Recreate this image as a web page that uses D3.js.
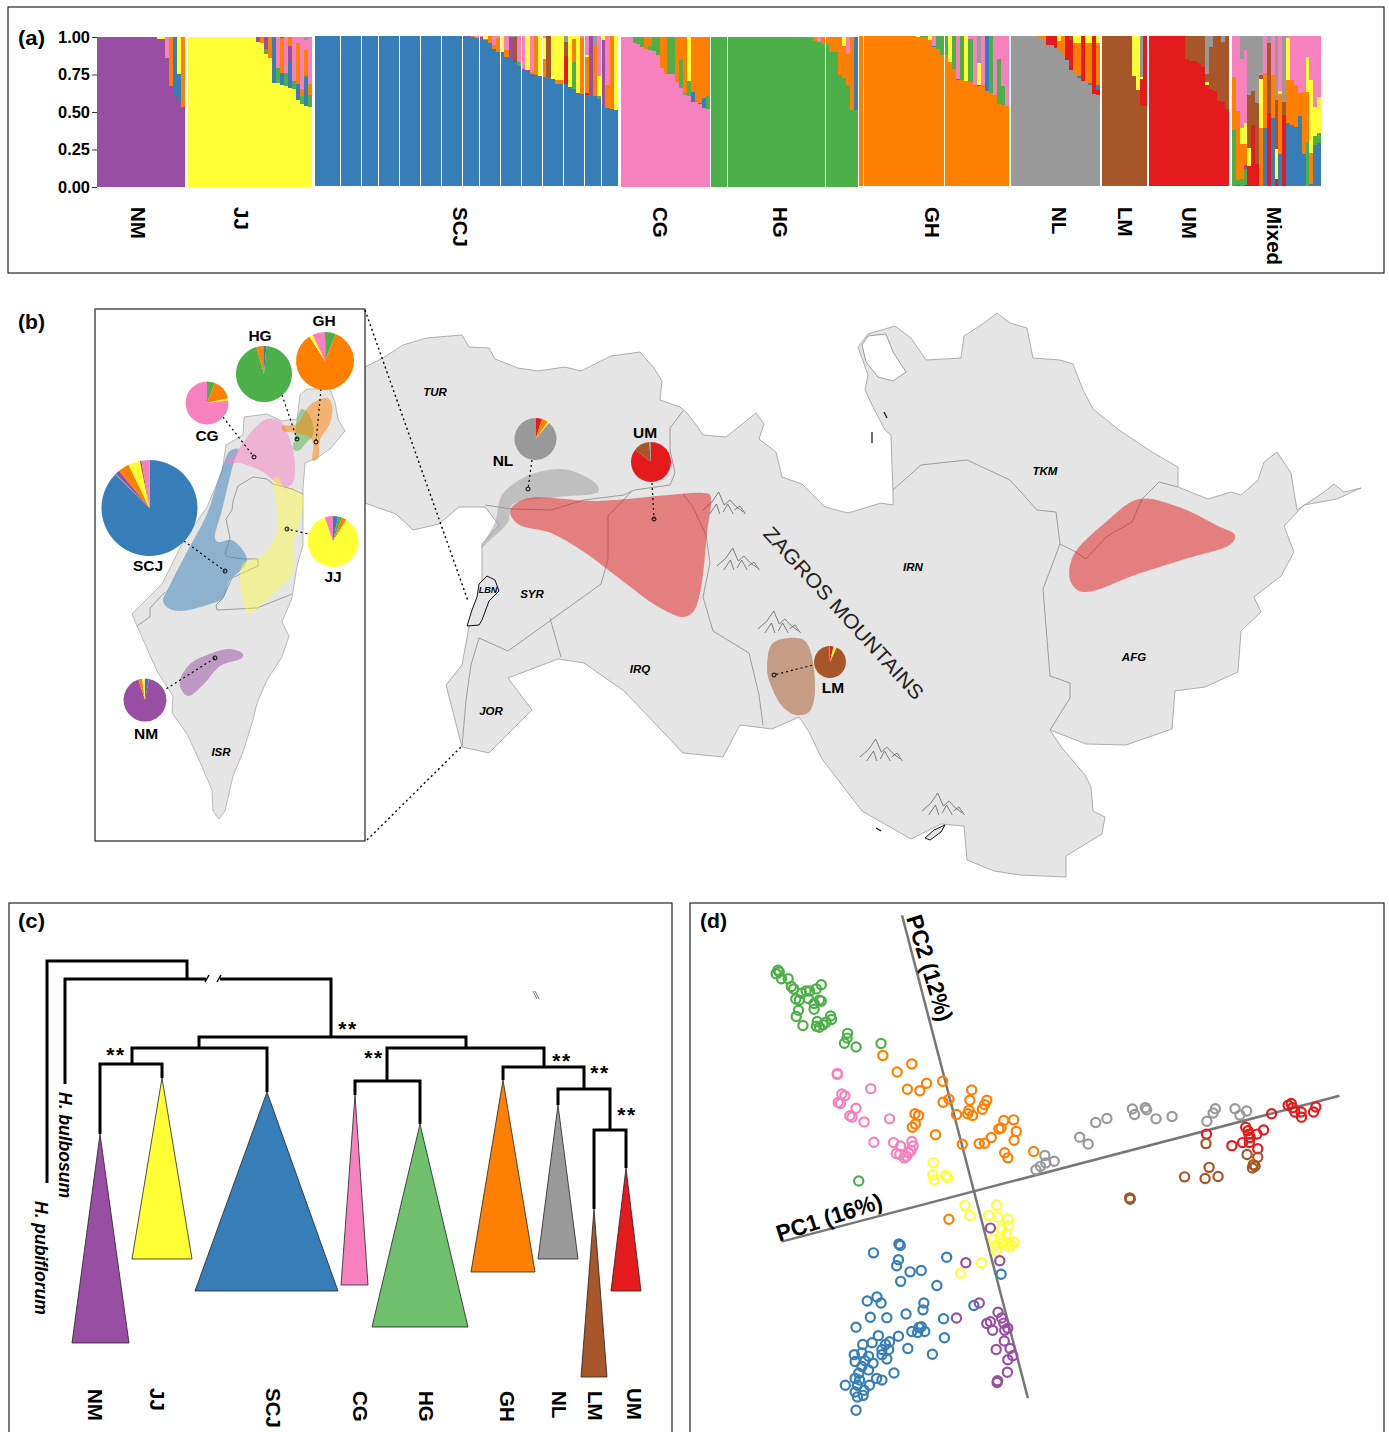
<!DOCTYPE html>
<html>
<head>
<meta charset="utf-8">
<script src="https://d3js.org/d3.v7.min.js"></script>
<style>
body { margin: 0; background: #fff; }
text { font-family: "Liberation Sans", Arial, sans-serif; }
</style>
</head>
<body>
<div id="chart"></div>
<script>
// ---------- panel (a): ancestry per individual, cumulative from the bottom ----------
var groupNames = ["NM", "JJ", "SCJ", "CG", "HG", "GH", "NL", "LM", "UM", "Mixed"];
var groupMain  = ["U", "Y", "B", "K", "G", "O", "A", "N", "R", null];
var groupFlat  = [15, 17, 35, 3, 24, 14, 7, 8, 9, 0];

var nmBars = [["U",.987,"Y",1],["U",.987,"Y",1],["U",.86,"K",1],["U",.673,"O",1],["U",.607,"B",1],["U",.573,"B",.753,"Y",1],["U",.533,"O",1]];
var jjBars = [["Y",.967,"U",1],["Y",.96,"O",1],["Y",.887,"G",.92,"U",1],["Y",.86,"O",1],["Y",.693,"B",1],["Y",.693,"G",.793,"K",1],
  ["Y",.68,"B",.76,"O",.993,"N",1],["Y",.673,"G",.76,"K",1],["Y",.66,"B",.833,"U",.94,"O",1],["Y",.653,"G",.707,"K",1],
  ["Y",.58,"B",.687,"O",.96,"K",1],["Y",.553,"G",.607,"O",.653,"K",1],["Y",.54,"B",.733,"G",.747,"O",.913,"K",.98,"A",1],["Y",.533,"G",.613,"O",.687,"K",.993,"A",1]];
var scjBars = [["B",.998,"K",1],["B",.996,"U",1],["B",.991,"O",1],["B",.987,"K",1],
  ["B",.98,"U",.993,"K",1],["B",.973,"O",.98,"Y",1],["B",.953,"O",1],["B",.913,"O",.94,"K",1],["B",.893,"O",.987,"K",1],
  ["B",.893,"Y",1],["B",.86,"O",.907,"K",1],["B",.84,"U",.993,"A",1],["B",.827,"R",.833,"N",.993,"A",1],["B",.8,"G",.827,"K",1],
  ["B",.78,"K",1],["B",.767,"U",.773,"Y",1],["B",.747,"O",.76,"K",1],["B",.738,"O",1],["B",.733,"Y",1],
  ["B",.727,"O",.847,"Y",.987,"K",1],["B",.727,"N",1],["B",.713,"Y",1],["B",.68,"O",.707,"Y",1],["B",.68,"O",.707,"Y",1],
  ["B",.68,"R",.867,"N",.96,"A",1],["B",.66,"Y",1],["B",.647,"G",.827,"O",.98,"Y",1],["B",.62,"Y",1],["B",.613,"O",.987,"K",1],
  ["B",.607,"R",.62,"O",.86,"Y",.873,"K",1],["B",.607,"U",1],["B",.6,"O",.94,"A",1],["B",.58,"G",.6,"Y",.733,"K",1],
  ["B",.533,"U",.973,"Y",1],["B",.52,"O",.673,"K",1],["B",.513,"O",1],["B",.507,"Y",1]];
var cgBars = [["K",.96,"G",1],["K",.953,"G",1],["K",.933,"G",1],["K",.92,"O",1],["K",.913,"G",.94,"O",1],["K",.907,"G",1],["K",.88,"G",1],
  ["K",.793,"O",1],["K",.753,"O",1],["K",.753,"G",1],["K",.753,"G",1],["K",.7,"O",1],["K",.66,"G",.853,"O",1],["K",.613,"G",.62,"O",1],
  ["K",.607,"G",.707,"Y",1],["K",.567,"B",.633,"O",1],["K",.567,"G",.573,"O",1],["K",.553,"B",.56,"O",1],["K",.527,"B",.593,"O",1],["K",.52,"G",.607,"O",1]];
var hgBars = [["G",.993,"O",1],["G",.973,"O",1],["G",.967,"K",1],["G",.953,"O",1],
  ["G",.953,"O",1],["G",.9,"O",1],["G",.9,"O",1],["G",.747,"O",1],["G",.727,"O",.94,"Y",1],["G",.68,"O",.887,"K",1],["G",.513,"O",1],["G",.513,"B",1]];
var ghBars = [["O",.993,"Y",1],["O",.993,"G",1],["O",.993,"G",1],["O",.973,"Y",1],["O",.927,"B",.933,"K",1],["O",.913,"G",1],["O",.873,"G",1],
  ["O",.873,"G",1],["O",.827,"Y",1],["O",.78,"G",1],["O",.707,"B",.713,"K",1],["O",.707,"G",1],["O",.7,"Y",1],["O",.693,"G",.98,"K",1],
  ["O",.673,"K",1],["O",.667,"R",.673,"Y",.82,"A",1],["O",.673,"K",1],["O",.633,"B",1],["O",.62,"G",1],["O",.607,"K",1],
  ["O",.547,"G",.847,"K",1],["O",.54,"G",.667,"K",1],["O",.533,"K",1]];
var nlBars = [["A",.987,"O",1],["A",.973,"O",1],["A",.94,"R",1],["A",.94,"R",1],["A",.92,"R",1],["A",.907,"O",.967,"Y",1],["A",.873,"O",1],
  ["A",.84,"R",1],["A",.773,"R",.973,"N",1],["A",.747,"O",.953,"Y",1],["A",.72,"B",.733,"O",.953,"Y",1],["A",.7,"R",1],["A",.7,"O",.953,"Y",1],
  ["A",.673,"B",.687,"O",.953,"Y",1],["A",.613,"R",1],["A",.607,"R",.64,"B",.673,"O",.953,"Y",1]];
var lmBars = [["N",.733,"Y",1],["N",.64,"Y",1],["N",.54,"R",.713,"Y",.727,"A",1],["N",.533,"R",1]];
var umBars = [["R",.847,"N",1],["R",.833,"N",1],["R",.833,"N",1],["R",.82,"N",1],["R",.793,"N",1],["R",.673,"Y",.693,"N",.747,"A",1],
  ["R",.647,"N",.927,"A",1],["R",.633,"N",1],["R",.567,"N",1],["R",.56,"N",.96,"A",1],["R",.513,"N",1]];
var mixedBars = [["G",.373,"O",.727,"K",1],["B",.007,"G",.04,"O",.5,"K",1],["G",.047,"O",.28,"Y",.387,"K",.847,"A",1],
  ["R",.005,"G",.113,"U",.14,"O",.28,"Y",.42,"K",.907,"A",1],["R",.133,"Y",.253,"N",.607,"A",1],["R",.407,"N",.633,"A",1],["R",.147,"N",.553,"A",1],
  ["O",.387,"Y",.713,"N",.74,"K",.753,"A",1],["B",.387,"O",.753,"K",1],["R",.487,"N",.953,"A",1],["B",.453,"O",.74,"K",1],
  ["R",.047,"Y",.247,"N",.573,"A",1],["B",.213,"O",.613,"Y",.633,"K",1],["R",.473,"N",.56,"A",1],["B",.42,"O",.707,"Y",.987,"K",1],
  ["B",.407,"O",.707,"K",1],["B",.393,"O",.673,"K",1],["B",.467,"O",.62,"K",1],["B",.213,"O",.627,"K",1],["G",.293,"O",.627,"Y",.86,"K",1],
  ["B",.013,"O",.22,"Y",.707,"K",1],["B",.273,"G",.333,"Y",.527,"K",1],["B",.287,"G",.353,"Y",.593,"K",1]];
var groupBars = [nmBars, jjBars, scjBars, cgBars, hgBars, ghBars, nlBars, lmBars, umBars, mixedBars];

// thin white breaks inside a group, counted in individuals
var scjBreaks = [6,11,15,20,25,30,35,39,44,49,54,59,64,68];
var hgBreaks  = [4,28];
var ghBreaks  = [1,21];
var groupBreaks = [[], [], scjBreaks, [], hgBreaks, ghBreaks, [], [], [], []];

var yTicks = [0, 0.25, 0.5, 0.75, 1];

// ---------- panel (b): pies ----------
var pieNames = ["GH","HG","CG","SCJ","JJ","NM","NL","UM","LM"];
var pieKeys = [["B","G","O","Y","K"],["B","G","O"],["G","O","Y","K"],["B","G","U","O","Y","N","K"],["B","G","O","Y","K"],["B","U","O","Y","K"],["R","O","Y","A"],["R","N","A"],["R","Y","N","A"]];
var pieVals = [[.005,.055,.85,.02,.07],[.014,.942,.044],[.06,.155,.016,.769],[.873,.003,.015,.037,.04,.005,.027],[.032,.025,.03,.861,.052],[.03,.92,.028,.02,.002],[.05,.05,.012,.888],[.855,.13,.015],[.035,.035,.92,.01]];

// ---------- map outlines ----------
var mainland = [[365,367],[383,358],[403,345],[426,338],[462,335],[469,347],[489,348],[495,359],[518,368],[538,371],[565,367],[581,371],[611,356],[640,352],[654,368],[662,381],[660,400],[680,407],[687,413],[697,426],[703,435],[726,437],[756,413],[764,424],[759,439],[776,452],[782,477],[802,484],[825,507],[848,513],[881,503],[893,505],[893,495],[891,435],[885,430],[872,405],[865,390],[868,375],[858,347],[868,334],[895,326],[911,338],[926,360],[961,358],[964,336],[984,323],[997,313],[1010,323],[1027,328],[1033,358],[1060,360],[1073,364],[1083,390],[1093,409],[1119,430],[1152,452],[1178,467],[1178,487],[1208,499],[1231,492],[1241,495],[1258,480],[1264,462],[1277,452],[1291,473],[1297,510],[1324,492],[1334,484],[1344,492],[1361,488],[1337,499],[1304,505],[1284,526],[1294,552],[1281,576],[1254,597],[1261,612],[1241,631],[1238,672],[1205,687],[1175,691],[1172,729],[1126,745],[1086,744],[1050,730],[1062,748],[1085,775],[1091,787],[1093,811],[1105,817],[1102,834],[1066,856],[1066,877],[1020,875],[994,871],[967,860],[964,826],[941,824],[911,839],[862,811],[822,759],[809,732],[799,717],[772,729],[740,725],[723,757],[683,753],[624,691],[584,663],[558,659],[508,678],[532,710],[489,753],[462,747],[446,685],[462,665],[469,627],[482,593],[482,544],[499,525],[485,507],[459,507],[439,524],[413,530],[396,514],[365,503]];
var borders = [
  [[485,505],[512,509],[551,510],[584,500],[624,495],[634,490],[670,485],[675,473],[670,450],[670,428],[683,411]],
  [[631,492],[608,516],[608,559],[601,584],[508,651],[479,638]],
  [[683,494],[693,507],[706,535],[710,563],[703,597],[713,631],[749,653],[759,695],[763,725]],
  [[550,618],[561,657]],
  [[479,638],[471,665],[466,700],[462,747]],
  [[893,490],[921,465],[967,460],[1010,480],[1037,510],[1056,512],[1060,544],[1076,552],[1086,559],[1106,537],[1132,522],[1142,499],[1159,482],[1178,487]],
  [[1060,544],[1043,589],[1050,676],[1070,683],[1070,698],[1050,730]]
];
var lebanon = [[487,576],[495,580],[499,591],[489,601],[482,620],[479,625],[467,626],[472,610],[477,597],[479,584]];
var karaBogaz = [[862,345],[868,336],[886,334],[893,352],[906,372],[893,381],[878,377],[866,362]];
var qeshm = [[925,838],[934,830],[945,825],[941,832],[930,840]];
var coastBits = [[[872,432],[872,443]],[[884,412],[887,418]],[[876,828],[881,831]]];
var israel = [[132,614],[162,584],[183,542],[207,507],[222,472],[226,445],[243,435],[244,417],[267,414],[282,421],[297,419],[300,395],[307,389],[330,389],[335,402],[338,419],[345,431],[330,449],[317,458],[305,463],[303,489],[303,545],[297,566],[292,598],[282,622],[289,636],[282,657],[267,680],[257,703],[253,720],[243,752],[233,776],[225,811],[219,819],[213,811],[212,790],[200,762],[187,734],[172,713],[173,696],[157,671],[137,626]];
var westBank = [[303,494],[292,489],[273,484],[267,479],[253,477],[238,486],[233,501],[232,510],[226,519],[230,538],[225,554],[228,557],[245,559],[258,559],[258,566],[232,578],[223,598],[216,605],[217,610],[257,608],[292,594]];
var gaza = [[137,626],[150,617],[150,608],[165,592]];

// coloured ranges
var rangeNames = ["NL","UM","UM","LM","SCJ","CG","JJ","HG","GH","NM"];
var rangeKeys  = ["A","R","R","N","B","K","Y","G","O","U"];
var rangeShapes = [
  [[481,548],[495,522],[502,495],[525,477],[558,469],[578,473],[598,486],[598,492],[558,497],[512,505],[508,522],[489,541]],
  [[510,511],[525,499],[598,501],[703,493],[710,495],[707,533],[700,593],[693,612],[683,617],[657,606],[624,582],[584,552],[551,533],[518,524]],
  [[1139,499],[1179,507],[1218,526],[1235,535],[1231,544],[1185,559],[1132,576],[1093,591],[1079,591],[1070,580],[1073,556],[1106,522]],
  [[767,668],[772,644],[789,638],[806,642],[815,691],[809,712],[796,715],[782,706],[769,680]],
  [[163,601],[170,585],[187,552],[207,514],[222,468],[230,451],[238,449],[233,465],[222,510],[215,538],[218,542],[232,540],[247,559],[240,571],[230,580],[223,598],[207,605],[180,611],[168,608]],
  [[225,463],[237,451],[253,430],[267,419],[280,421],[290,440],[295,465],[292,484],[283,487],[263,472],[240,463]],
  [[273,479],[278,477],[283,486],[302,494],[303,507],[293,545],[292,573],[273,594],[248,613],[243,601],[240,577],[243,563],[260,557],[275,538],[278,517],[275,496]],
  [[293,449],[295,438],[297,419],[302,409],[310,416],[313,435],[307,442],[298,451]],
  [[282,426],[297,424],[310,405],[327,398],[332,405],[330,423],[320,440],[318,458],[313,461],[312,440],[297,433],[283,431]],
  [[180,680],[190,664],[207,655],[230,649],[243,654],[242,658],[220,666],[203,685],[188,696],[181,689]]
];
var countryNames = ["TUR","SYR","LBN","IRQ","JOR","IRN","TKM","AFG","ISR"];

// ---------- panel (c) ----------
var cladeNames = ["NM","JJ","SCJ","CG","HG","GH","NL","LM","UM"];
var cladeKeys  = ["U","Y","B","K","G2","O","A","N","R"];
var cladeTip   = [100,162,267,355,420,503,558,594,626];
var cladeApex  = [1134,1078,1092,1095,1124,1080,1105,1209,1168];
var cladeLeft  = [72,132,195,341,372,471,538,581,611];
var cladeRight = [129,192,338,368,468,535,578,607,641];
var cladeBase  = [1343,1259,1291,1285,1327,1272,1259,1377,1291];
var treeSteps = [
  [[47,1183],[47,961],[187,961],[187,979]],
  [[65,1084],[65,979],[206,979]],
  [[220,979],[331,979],[331,1037]],
  [[199,1048],[199,1037],[466,1037],[466,1048]],
  [[132,1064],[132,1048],[267,1048],[267,1092]],
  [[100,1134],[100,1064],[162,1064],[162,1078]],
  [[387,1081],[387,1048],[544,1048],[544,1067]],
  [[355,1095],[355,1081],[420,1081],[420,1124]],
  [[503,1080],[503,1067],[584,1067],[584,1089]],
  [[558,1105],[558,1089],[610,1089],[610,1130]],
  [[594,1209],[594,1130],[626,1130],[626,1168]]
];

// ---------- panel (d): PCA scores read on a 1566 x 1568 grid ----------
var pcaGreen = [[197,207],[200,212],[193,217],[205,232],[220,232],[227,255],[232,262],[260,268],[250,275],[268,268],[283,262],[294,250],[237,292],[245,295],[265,290],[290,295],[294,298],[278,305],[278,322],[243,325],[238,343],[253,370],[285,358],[283,372],[290,375],[298,368],[315,342],[317,352],[305,360],[353,393],[352,407],[346,422],[372,433],[428,423],[378,828]];
var pcaOrange = [[432,458],[497,483],[464,507],[530,540],[566,534],[487,558],[515,562],[631,560],[580,587],[567,596],[627,590],[665,590],[660,603],[655,617],[625,620],[622,630],[633,635],[597,632],[504,630],[512,635],[505,660],[498,670],[550,692],[610,720],[648,718],[660,717],[675,700],[692,675],[697,672],[703,650],[725,648],[731,682],[726,708],[705,745],[712,760],[770,741],[580,941]];
var pcaPink = [[330,511],[330,514],[405,556],[340,572],[347,577],[332,597],[337,600],[372,614],[358,636],[363,640],[390,654],[447,645],[412,714],[456,715],[472,725],[497,712],[500,725],[495,738],[462,747],[470,750],[485,755],[490,745],[480,760]];
var pcaYellow = [[545,774],[544,810],[573,812],[577,818],[547,825],[616,900],[627,930],[687,899],[669,930],[690,935],[712,940],[713,960],[698,970],[708,985],[695,995],[680,1000],[712,1010],[726,1008],[720,1018],[685,1018],[686,1035],[653,1069],[606,1100],[700,1010],[715,1022]];
var pcaGrey = [[991,616],[1020,612],[1023,618],[996,632],[1044,645],[1080,638],[934,644],[909,656],[873,699],[892,719],[795,753],[816,770],[797,775],[785,785],[775,795],[1177,615],[1172,628],[1158,652],[1221,615],[1247,622],[1232,634]];
var pcaRed = [[1157,690],[1303,630],[1340,605],[1347,600],[1350,612],[1355,625],[1369,625],[1370,640],[1397,625],[1402,610],[1245,670],[1250,680],[1252,690],[1255,700],[1270,690],[1285,678],[1238,715],[1253,715],[1214,724],[1272,733]];
var pcaBrown = [[1156,718],[1248,750],[1272,758],[1262,780],[1260,790],[1266,785],[1163,788],[1183,815],[1154,821],[1108,816],[986,880],[986,882],[985,878]];
var pcaBlue = [[411,1040],[468,1014],[471,1018],[467,1060],[463,1078],[493,1096],[518,1092],[575,1053],[697,1103],[472,1124],[553,1136],[419,1170],[397,1182],[428,1188],[524,1188],[522,1208],[636,1195],[484,1220],[404,1230],[441,1231],[568,1234],[372,1259],[422,1284],[467,1286],[497,1272],[513,1260],[518,1258],[526,1272],[510,1275],[570,1290],[408,1305],[387,1310],[447,1302],[438,1310],[488,1322],[430,1325],[445,1325],[543,1339],[368,1340],[385,1335],[400,1345],[430,1340],[441,1353],[370,1360],[392,1358],[410,1365],[385,1375],[400,1385],[378,1395],[457,1394],[370,1410],[380,1415],[418,1410],[430,1415],[348,1430],[375,1430],[402,1430],[390,1445],[370,1450],[375,1465],[388,1460],[372,1504]];
var pcaPurple = [[673,967],[694,1063],[618,1069],[648,1188],[597,1232],[690,1215],[665,1248],[673,1243],[698,1232],[703,1247],[712,1262],[705,1268],[678,1268],[704,1300],[686,1325],[717,1322],[723,1343],[712,1355],[711,1392],[689,1417],[688,1422]];
var pcaGroups = [pcaGreen, pcaOrange, pcaPink, pcaYellow, pcaGrey, pcaRed, pcaBrown, pcaBlue, pcaPurple];
var pcaKeys   = ["G","O","K","Y","A","R","N","B","U"];

// ---------- colours ----------
var colors = {R:"#E41A1C", B:"#377EB8", G:"#4DAF4A", U:"#984EA3", O:"#FF7F00", Y:"#FFFF33", N:"#A65628", K:"#F781BF", A:"#999999", G2:"#6FBF6D"};

var W = 1389, H = 1432;
var svg = d3.select("#chart").append("svg").attr("width", W).attr("height", H).style("display", "block");

function frame(x, y, w, h) {
    svg.append("rect").attr("x", x).attr("y", y).attr("width", w).attr("height", h)
        .attr("fill", "#fff").attr("stroke", "#222").attr("stroke-width", 1.2);
}
function panelTag(t, x, y) {
    svg.append("text").attr("x", x).attr("y", y).attr("font-size", 21).attr("font-weight", "bold")
        .attr("textLength", 27).attr("lengthAdjust", "spacingAndGlyphs").text(t);
}
// text reading top to bottom, x is the glyph centre line
function downText(t, x, y, size, extra) {
    var el = svg.append("text").attr("transform", "translate(" + x + "," + y + ") rotate(90)")
        .attr("dy", "0.35em").attr("font-size", size).attr("font-weight", "bold").text(t);
    if (extra) el.attr("font-style", extra);
    return el;
}

// ---------- panel (a) ----------
frame(8, 7, 1376, 266);
panelTag("(a)", 18, 45);

var groupX0 = [97,188,315,621,711,859,1011,1102,1149,1232];
var groupX1 = [185,312,618,710,858,1009,1100,1147,1229,1321];
var groupLift = [0,0,-1,0,0,-1,-1,-1,-1,-1];
var groupLabelX = [138,241,460,660,780,932,1059,1125,1189,1274];

var yQ = d3.scaleLinear().domain([0, 1]).range([187, 37]);
var axisA = svg.append("g").attr("transform", "translate(97,0)")
    .call(d3.axisLeft(yQ).tickValues(yTicks).tickFormat(d3.format(".2f")).tickSize(5).tickPadding(2));
axisA.select(".domain").remove();
axisA.selectAll("text").attr("font-size", 17).attr("font-weight", "bold").attr("fill", "#000")
    .attr("textLength", 32).attr("lengthAdjust", "spacingAndGlyphs");
axisA.selectAll("line").attr("stroke", "#333").attr("stroke-width", 1);

groupNames.forEach(function(name, g) {
    var bars = d3.range(groupFlat[g]).map(function() { return [groupMain[g], 1]; }).concat(groupBars[g]);
    var xB = d3.scaleBand().domain(d3.range(bars.length)).range([groupX0[g], groupX1[g]]);
    var gEl = svg.append("g").attr("transform", "translate(0," + groupLift[g] + ")").attr("shape-rendering", "crispEdges");
    bars.forEach(function(bar, i) {
        var low = 0;
        for (var k = 0; k < bar.length; k += 2) {
            gEl.append("rect")
                .attr("x", xB(i)).attr("width", xB.bandwidth())
                .attr("y", yQ(bar[k + 1])).attr("height", yQ(low) - yQ(bar[k + 1]))
                .attr("fill", colors[bar[k]]);
            low = bar[k + 1];
        }
    });
    groupBreaks[g].forEach(function(b) {
        gEl.append("rect").attr("x", xB(b) - 0.5).attr("width", 1).attr("y", yQ(1) - 1).attr("height", yQ(0) - yQ(1) + 2).attr("fill", "#fff");
    });
    downText(name, groupLabelX[g], 207, 20.5);
});

// ---------- panel (b) ----------
panelTag("(b)", 18, 329);

var mapX = d3.scaleIdentity(), mapY = d3.scaleIdentity();
var mapLine = d3.line().x(function(d) { return mapX(d[0]); }).y(function(d) { return mapY(d[1]); });
var blobLine = d3.line().x(function(d) { return mapX(d[0]); }).y(function(d) { return mapY(d[1]); }).curve(d3.curveCatmullRomClosed.alpha(0.5));

svg.append("path").attr("d", mapLine(mainland) + "Z").attr("fill", "#E5E5E5").attr("stroke", "#9a9a9a").attr("stroke-width", 0.8);
borders.forEach(function(b) {
    svg.append("path").attr("d", mapLine(b)).attr("fill", "none").attr("stroke", "#888").attr("stroke-width", 0.8);
});
svg.append("path").attr("d", mapLine(karaBogaz) + "Z").attr("fill", "#fff").attr("stroke", "#888").attr("stroke-width", 0.8);
svg.append("path").attr("d", mapLine(lebanon) + "Z").attr("fill", "#E5E5E5").attr("stroke", "#111").attr("stroke-width", 1);
svg.append("path").attr("d", mapLine(qeshm) + "Z").attr("fill", "#E5E5E5").attr("stroke", "#111").attr("stroke-width", 1);
coastBits.forEach(function(b) {
    svg.append("path").attr("d", mapLine(b)).attr("fill", "none").attr("stroke", "#111").attr("stroke-width", 1.2);
});

// little mountain symbols
var mountainLines = [
  [[0,18],[8,10],[14,0],[19,13],[24,8],[29,14],[36,20]],
  [[6,22],[12,12],[15,22]],
  [[18,20],[22,12],[27,22]],
  [[28,18],[33,14],[38,22]]
];
var mountainSpots = [[703,492],[717,548],[758,611],[860,739],[922,793]];
mountainSpots.forEach(function(p) {
    var g = svg.append("g").attr("transform", "translate(" + p[0] + "," + p[1] + ") scale(1.12,1)");
    mountainLines.forEach(function(l) {
        g.append("path").attr("d", mapLine(l)).attr("fill", "none").attr("stroke", "#555").attr("stroke-width", 0.7);
    });
});

// inset
frame(95, 309, 270, 532);
svg.append("path").attr("d", mapLine(israel) + "Z").attr("fill", "#E5E5E5").attr("stroke", "#aaa").attr("stroke-width", 0.8);
[westBank, gaza].forEach(function(b) {
    svg.append("path").attr("d", mapLine(b)).attr("fill", "none").attr("stroke", "#8a8a8a").attr("stroke-width", 0.8);
});

rangeShapes.forEach(function(s, i) {
    svg.append("path").attr("d", blobLine(s)).attr("fill", colors[rangeKeys[i]]).attr("fill-opacity", rangeKeys[i] == "Y" ? 0.42 : 0.5).attr("data-name", rangeNames[i]);
});

function dotted(a, b, w) {
    svg.append("line").attr("x1", a[0]).attr("y1", a[1]).attr("x2", b[0]).attr("y2", b[1])
        .attr("stroke", "#000").attr("stroke-width", w || 1.2).attr("stroke-dasharray", "2 3");
}
dotted([365,310],[468,601],1.4);
dotted([367,840],[461,747],1.4);

var pieCenterX = [325,264,207,149.5,333,145,535.5,651,830];
var pieCenterY = [361,374,403,508,541.5,700,439,462,662];
var pieRadius  = [29,28,21.5,48,25.5,21.5,21,20,16];
var pieTailX = [321,282,223,184,317,158,532,652,817];
var pieTailY = [389,395,417,541,536,694,460,483,664];
var pieSiteX = [316,297,254,225,287,215,528,654,774];
var pieSiteY = [442,439,457,571,529,658,489,519,675];
var pieLabelX = [324,260,207,148,333,146,503,645,833];
var pieLabelY = [320,335,435,565,576,733,460,432,687];

var pie = d3.pie().sort(null).value(function(d) { return d; });
pieNames.forEach(function(name, i) {
    dotted([pieTailX[i], pieTailY[i]], [pieSiteX[i], pieSiteY[i]]);
    svg.append("circle").attr("cx", pieSiteX[i]).attr("cy", pieSiteY[i]).attr("r", 2).attr("fill", "none").attr("stroke", "#000").attr("stroke-width", 1);
    var g = svg.append("g").attr("transform", "translate(" + pieCenterX[i] + "," + pieCenterY[i] + ")");
    var arc = d3.arc().innerRadius(0).outerRadius(pieRadius[i]);
    g.selectAll("path").data(pie(pieVals[i])).enter().append("path")
        .attr("d", arc).attr("fill", function(d, k) { return colors[pieKeys[i][k]]; });
    svg.append("text").attr("x", pieLabelX[i]).attr("y", pieLabelY[i]).attr("dy", "0.36em")
        .attr("text-anchor", "middle").attr("font-size", 15.5).attr("font-weight", "bold").text(name);
});

var countryX = [435,532,488,640,491,913,1045,1134,221];
var countryY = [392,594,590,669,711,567,471,657,752];
countryNames.forEach(function(c, i) {
    svg.append("text").attr("x", countryX[i]).attr("y", countryY[i]).attr("dy", "0.36em").attr("text-anchor", "middle")
        .attr("font-size", c == "LBN" ? 9 : 11.5).attr("font-weight", "bold").attr("font-style", "italic").text(c);
});
svg.append("text").attr("transform", "translate(844,613) rotate(47.5)").attr("dy", "0.36em").attr("text-anchor", "middle")
    .attr("font-size", 20).attr("fill", "#222").attr("textLength", 226).attr("lengthAdjust", "spacingAndGlyphs").text("ZAGROS MOUNTAINS");

// ---------- panel (c) ----------
frame(9, 903, 663, 560);
panelTag("(c)", 18, 928);

var treeLine = d3.line();
cladeNames.forEach(function(name, i) {
    var tri = [[cladeTip[i], cladeApex[i]], [cladeLeft[i], cladeBase[i]], [cladeRight[i], cladeBase[i]]];
    svg.append("path").attr("d", treeLine(tri) + "Z").attr("fill", colors[cladeKeys[i]]).attr("stroke", "#222").attr("stroke-width", 0.8);
});
treeSteps.forEach(function(s) {
    svg.append("path").attr("d", treeLine(s)).attr("fill", "none").attr("stroke", "#000").attr("stroke-width", 3);
});
svg.append("path").attr("d", "M205,982L209,975").attr("stroke", "#000").attr("stroke-width", 1.5);
svg.append("path").attr("d", "M217,982L221,975").attr("stroke", "#000").attr("stroke-width", 1.5);
svg.append("path").attr("d", "M533,991L537,999").attr("stroke", "#444").attr("stroke-width", 0.7);
svg.append("path").attr("d", "M535,991L539,999").attr("stroke", "#444").attr("stroke-width", 0.7);

var starX = [348,116,374,562,600,627];
var starY = [1036,1062,1065,1068,1080,1122];
starX.forEach(function(x, i) {
    svg.append("text").attr("x", x).attr("y", starY[i]).attr("text-anchor", "middle").attr("font-size", 21).attr("font-weight", "bold")
        .attr("letter-spacing", 1.5).text("**");
});

var cladeLabelX = [95,157,273,360,426,507,559,595,634];
var cladeLabelY = [1389,1388,1388,1391,1391,1391,1391,1391,1388];
cladeNames.forEach(function(name, i) {
    downText(name, cladeLabelX[i], cladeLabelY[i], 20.5);
});
downText("H. bulbosum", 65, 1092, 17.5, "italic");
downText("H. pubiflorum", 41, 1201, 17.5, "italic");

// ---------- panel (d) ----------
frame(690, 903, 694, 560);
panelTag("(d)", 700, 928);

var xPca = d3.scaleLinear().domain([0, 1566]).range([690, 1389]);
var yPca = d3.scaleLinear().domain([0, 1568]).range([900, 1432]);

var pcAxes = [[[475,45],[757,1468]],[[205,1007],[1455,577]]];
pcAxes.forEach(function(a) {
    svg.append("line").attr("x1", xPca(a[0][0])).attr("y1", yPca(a[0][1])).attr("x2", xPca(a[1][0])).attr("y2", yPca(a[1][1]))
        .attr("stroke", "#777").attr("stroke-width", 2.5);
});
pcaGroups.forEach(function(pts, i) {
    svg.selectAll(null).data(pts).enter().append("circle")
        .attr("cx", function(d) { return xPca(d[0]); })
        .attr("cy", function(d) { return yPca(d[1]); })
        .attr("r", 4.6).attr("fill", "none").attr("stroke", colors[pcaKeys[i]]).attr("stroke-width", 2.2);
});
svg.append("text").attr("transform", "translate(829,1217) rotate(-18)").attr("dy", "0.36em").attr("text-anchor", "middle")
    .attr("font-size", 23).attr("font-weight", "bold").attr("textLength", 110).attr("lengthAdjust", "spacingAndGlyphs").text("PC1 (16%)");
svg.append("text").attr("transform", "translate(930,968) rotate(73)").attr("dy", "0.36em").attr("text-anchor", "middle")
    .attr("font-size", 23).attr("font-weight", "bold").attr("textLength", 110).attr("lengthAdjust", "spacingAndGlyphs").text("PC2 (12%)");
</script>
</body>
</html>
